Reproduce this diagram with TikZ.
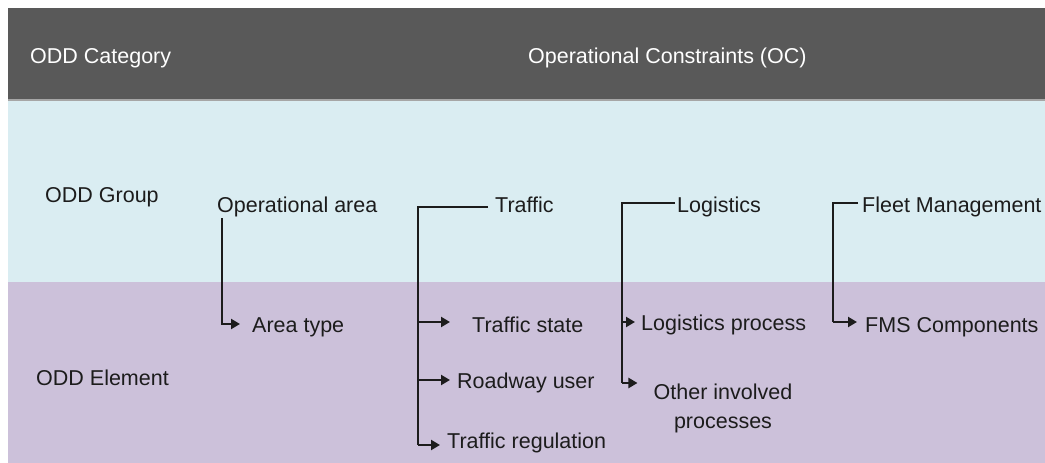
\documentclass[tikz,border=0pt]{standalone}
\usepackage{fontspec}
\setmainfont{Liberation Sans}
\usetikzlibrary{arrows.meta}
\definecolor{hdrgray}{HTML}{595959}
\definecolor{grpblue}{HTML}{DAEDF2}
\definecolor{elmpurple}{HTML}{CCC1DA}
\definecolor{inkc}{HTML}{1C1C1C}
\tikzset{
  lbl/.style={anchor=base west, inner sep=0pt, text=inkc, font=\fontsize{21.5}{29}\selectfont},
  hdr/.style={anchor=base west, inner sep=0pt, text=white, font=\fontsize{21.5}{28}\selectfont},
  link/.style={draw=inkc, line width=2.2pt},
  arr/.style={link, -{Triangle[length=9pt,width=10pt]}}
}
\begin{document}
\begin{tikzpicture}[x=1pt,y=-1pt]
\useasboundingbox (0,0) rectangle (1045,463);
\fill[white] (0,0) rectangle (1045,463);
% bands
\fill[hdrgray] (8,8) rectangle (1045,100);
\fill[grpblue] (8,100) rectangle (1045,282);
\fill[elmpurple] (8,282) rectangle (1045,463);
\draw[gray!70, line width=1.5pt] (8,100) -- (1045,100);
% header texts
\node[hdr] (cat) at (30,63) {ODD Category};
\node[hdr] (oc) at (528,63) {Operational Constraints (OC)};
% row labels
\node[lbl] (grp) at (45,202) {ODD Group};
\node[lbl] (elm) at (36,385) {ODD Element};
% groups
\node[lbl] (oa) at (217,212) {Operational area};
\node[lbl] (tg) at (495,212) {Traffic};
\node[lbl] (lg) at (677,212) {Logistics};
\node[lbl] (fm) at (862,212) {Fleet Management};
% elements
\node[lbl] (at) at (252,332) {Area type};
\node[lbl] (ts) at (472,332) {Traffic state};
\node[lbl] (ru) at (457,388) {Roadway user};
\node[lbl] (treg) at (447,448) {Traffic regulation};
\node[lbl] (lp) at (641,330) {Logistics process};
\node[lbl, anchor=north, align=center] (oip) at (723,384) {Other involved\\processes};
\node[lbl] (fms) at (865,332) {FMS Components};
% operational area
\coordinate (ata) at ([xshift=-12pt,yshift=8pt]at.base west);
\draw[arr] ([xshift=5pt,yshift=-6pt]oa.base west) |- (ata);
% traffic
\coordinate (t0) at ([xshift=-7pt,yshift=5pt]tg.base west);
\coordinate (t1) at ([xshift=-77pt,yshift=5pt]tg.base west);
\coordinate (tsa) at ([xshift=-22pt,yshift=10pt]ts.base west);
\coordinate (rua) at ([xshift=-7pt,yshift=8pt]ru.base west);
\coordinate (trega) at ([xshift=-7pt,yshift=3pt]treg.base west);
\draw[link] (t0) -- (t1) -- (t1 |- trega);
\draw[arr] (t1 |- trega) -- (trega);
\draw[arr] (t1 |- tsa) -- (tsa);
\draw[arr] (t1 |- rua) -- (rua);
% logistics
\coordinate (l0) at ([xshift=-2pt,yshift=9pt]lg.base west);
\coordinate (l1) at ([xshift=-55pt,yshift=9pt]lg.base west);
\coordinate (lpa) at ([xshift=-6pt,yshift=8pt]lp.base west);
\coordinate (oipa) at ([xshift=-16pt,yshift=1pt]oip.north west);
\draw[link] (l0) -- (l1) -- (l1 |- oipa);
\draw[arr] (l1 |- oipa) -- (oipa);
\draw[arr] (l1 |- lpa) -- (lpa);
% fleet management
\coordinate (f0) at ([xshift=-4pt,yshift=9pt]fm.base west);
\coordinate (f1) at ([xshift=-29pt,yshift=9pt]fm.base west);
\coordinate (fmsa) at ([xshift=-8pt,yshift=10pt]fms.base west);
\draw[link] (f0) -- (f1) -- (f1 |- fmsa);
\draw[arr] (f1 |- fmsa) -- (fmsa);
\end{tikzpicture}
\end{document}
